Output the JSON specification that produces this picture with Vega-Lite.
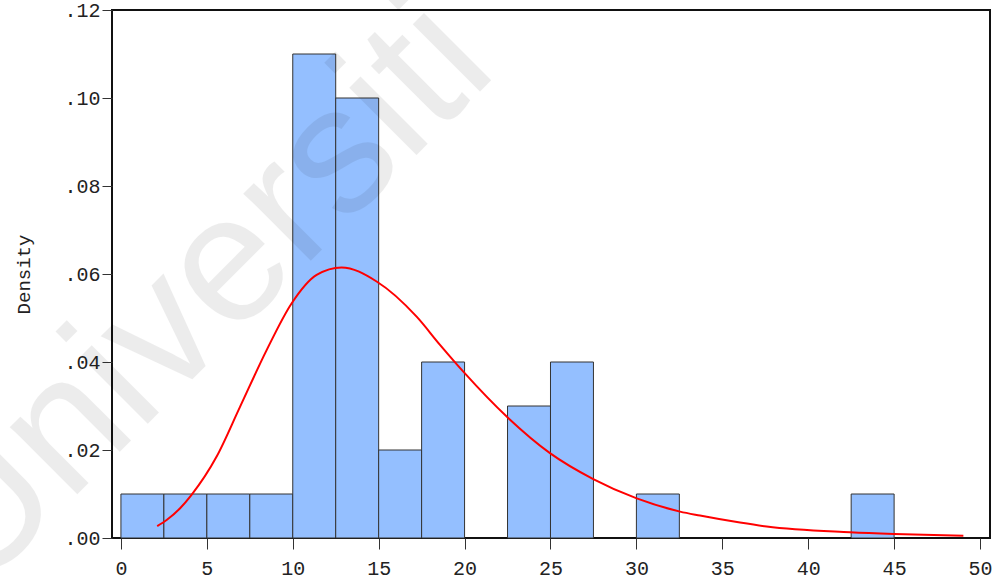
{
  "$schema": "https://vega.github.io/schema/vega-lite/v6.json",
  "autosize": "none",
  "width": 878,
  "height": 528,
  "padding": {"left": 112, "top": 10, "right": 13, "bottom": 49},
  "background": "white",
  "config": {
    "view": {"stroke": "#111", "strokeWidth": 2},
    "axis": {"labelFont": "Liberation Mono", "titleFont": "Liberation Mono", "labelColor": "#222", "titleColor": "#222", "grid": false, "tickColor": "#333", "domain": false}
  },
  "datasets": {
    "bins": [
      {"bin_start": 0, "bin_end": 2.5, "density": 0.01},
      {"bin_start": 2.5, "bin_end": 5, "density": 0.01},
      {"bin_start": 5, "bin_end": 7.5, "density": 0.01},
      {"bin_start": 7.5, "bin_end": 10, "density": 0.01},
      {"bin_start": 10, "bin_end": 12.5, "density": 0.11},
      {"bin_start": 12.5, "bin_end": 15, "density": 0.10},
      {"bin_start": 15, "bin_end": 17.5, "density": 0.02},
      {"bin_start": 17.5, "bin_end": 20, "density": 0.04},
      {"bin_start": 22.5, "bin_end": 25, "density": 0.03},
      {"bin_start": 25, "bin_end": 27.5, "density": 0.04},
      {"bin_start": 30, "bin_end": 32.5, "density": 0.01},
      {"bin_start": 42.5, "bin_end": 45, "density": 0.01}
    ],
    "curve": [
      {"x": 2.11, "y": 0.0027},
      {"x": 2.66, "y": 0.0041},
      {"x": 3.43, "y": 0.0067},
      {"x": 4.11, "y": 0.0098},
      {"x": 5.57, "y": 0.0185},
      {"x": 6.93, "y": 0.0298},
      {"x": 8.48, "y": 0.0427},
      {"x": 9.93, "y": 0.0533},
      {"x": 11.39, "y": 0.0598},
      {"x": 12.84, "y": 0.0615},
      {"x": 14.88, "y": 0.0583},
      {"x": 17.21, "y": 0.0503},
      {"x": 18.57, "y": 0.0439},
      {"x": 20.02, "y": 0.0374},
      {"x": 22.45, "y": 0.0276},
      {"x": 24.97, "y": 0.0193},
      {"x": 27.49, "y": 0.0134},
      {"x": 30.02, "y": 0.0090},
      {"x": 32.54, "y": 0.0060},
      {"x": 33.7, "y": 0.0051},
      {"x": 36.03, "y": 0.0035},
      {"x": 37.58, "y": 0.0026},
      {"x": 42.43, "y": 0.0013},
      {"x": 45.0, "y": 0.0009},
      {"x": 49.03, "y": 0.0005}
    ],
    "watermark": [
      {"x": 4.6, "y": 0.0552, "label": "Universiti"}
    ]
  },
  "layer": [
    {
      "data": {"name": "bins"},
      "mark": {"type": "rect", "fill": "#94BFFF", "stroke": "#333", "strokeWidth": 1},
      "encoding": {
        "x": {"field": "bin_start", "type": "quantitative",
              "scale": {"domain": [-0.52, 50.58], "nice": false, "zero": false},
              "axis": {"values": [0, 5, 10, 15, 20, 25, 30, 35, 40, 45, 50], "title": null, "labelFontSize": 20, "tickSize": 11, "labelPadding": 9, "labelFlush": false}},
        "x2": {"field": "bin_end"},
        "y": {"field": "density", "type": "quantitative",
              "scale": {"domain": [0, 0.12], "nice": false},
              "axis": {"values": [0, 0.02, 0.04, 0.06, 0.08, 0.1, 0.12], "title": "Density", "titleFontSize": 19, "titleFontWeight": "normal", "titlePadding": 30, "labelFontSize": 20, "tickSize": 10, "labelPadding": 2, "labelFlush": false,
                       "labelExpr": "replace(format(datum.value, '.2f'), '0.', '.')"}},
        "y2": {"datum": 0}
      }
    },
    {
      "data": {"name": "curve"},
      "mark": {"type": "line", "color": "#ff0000", "strokeWidth": 2, "interpolate": "monotone"},
      "encoding": {
        "x": {"field": "x", "type": "quantitative"},
        "y": {"field": "y", "type": "quantitative"}
      }
    },
    {
      "data": {"name": "watermark"},
      "mark": {"type": "text", "font": "Liberation Sans", "fontSize": 180, "angle": -45, "align": "center", "baseline": "middle", "fill": "#000", "opacity": 0.07},
      "encoding": {
        "x": {"field": "x", "type": "quantitative"},
        "y": {"field": "y", "type": "quantitative"},
        "text": {"field": "label"}
      }
    }
  ]
}
